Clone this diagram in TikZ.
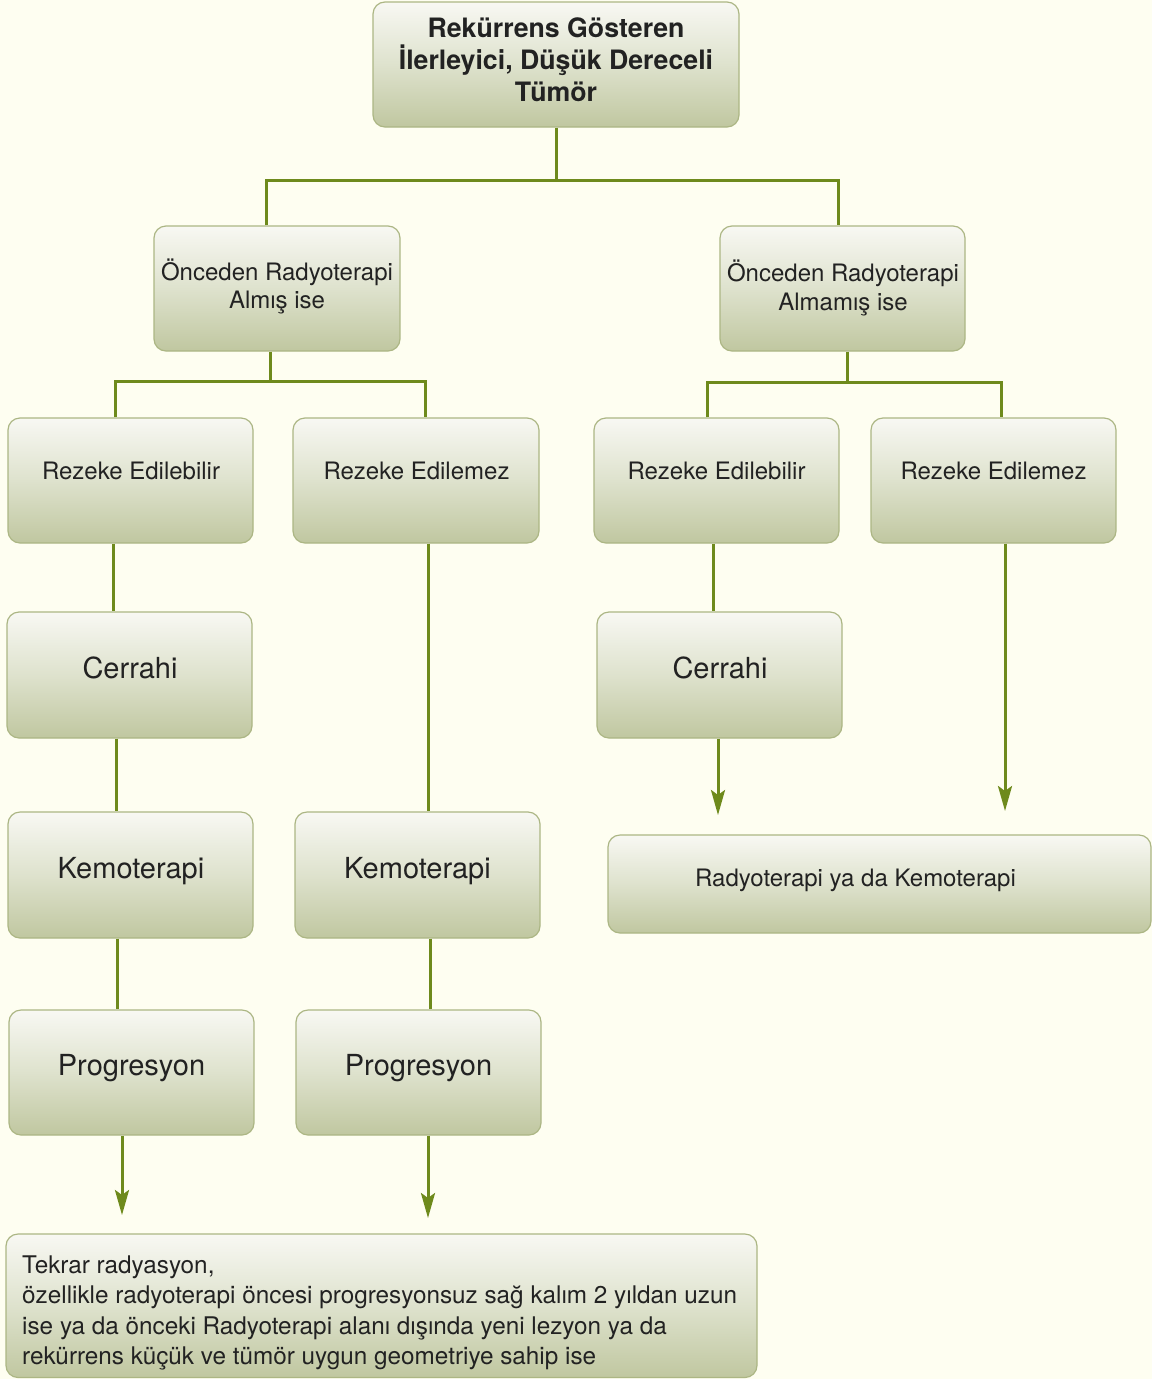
\documentclass[tikz,border=0pt]{standalone}
\usepackage{fontspec}
\setmainfont{TeX Gyre Heros}
\usetikzlibrary{arrows.meta,fit}
\definecolor{bg}{RGB}{254,254,241}
\definecolor{lineg}{RGB}{110,138,28}
\definecolor{bord}{RGB}{172,182,132}
\definecolor{gtop}{RGB}{248,248,243}
\definecolor{gmid}{RGB}{222,226,205}
\definecolor{gbot}{RGB}{192,199,160}
\definecolor{txt}{RGB}{34,34,34}
\newcommand\clines[2]{\vtop{\baselineskip=#1\lineskiplimit=-100pt\lineskip=0pt\halign{\hfil##\hfil\cr#2\crcr}}}
\newcommand\llines[2]{\vtop{\baselineskip=#1\lineskiplimit=-100pt\lineskip=0pt\halign{##\hfil\cr#2\crcr}}}
\begin{document}
\begin{tikzpicture}[x=1pt,y=-1pt,
  box/.style={draw=bord,line width=1.2pt,rounded corners=12pt,top color=gtop,bottom color=gbot,middle color=gmid,inner sep=0pt},
  lbl/.style={inner sep=0pt,text=txt,font=\fontsize{24}{28}\selectfont},
  big/.style={inner sep=0pt,text=txt,font=\fontsize{29}{34}\selectfont},
  ttl/.style={inner sep=0pt,text=txt,font=\fontsize{26.7}{32}\selectfont\bfseries},
  conn/.style={draw=lineg,line width=3pt},
  arr/.style={conn,-{Stealth[length=25pt,width=14pt,inset=5pt]}}]
\fill[bg] (0,0) rectangle (1152,1379);
\useasboundingbox (0,0) rectangle (1152,1379);
% boxes
\node[box,fit={(373,2)(739,127)}] (top) {};
\node[box,fit={(154,226)(400,351)}] (l2a) {};
\node[box,fit={(720,226)(965,351)}] (l2b) {};
\node[box,fit={(8,418)(253,543)}] (ra) {};
\node[box,fit={(293,418)(539,543)}] (rb) {};
\node[box,fit={(594,418)(839,543)}] (rc) {};
\node[box,fit={(871,418)(1116,543)}] (rd) {};
\node[box,fit={(7,612)(252,738)}] (cer1) {};
\node[box,fit={(597,612)(842,738)}] (cer2) {};
\node[box,fit={(8,812)(253,938)}] (kem1) {};
\node[box,fit={(295,812)(540,938)}] (kem2) {};
\node[box,fit={(9,1010)(254,1135)}] (prg1) {};
\node[box,fit={(296,1010)(541,1135)}] (prg2) {};
\node[box,fit={(608,835)(1151,933)}] (rk) {};
\node[box,fit={(6,1234)(757,1377.5)}] (tek) {};
% texts
\node[ttl,anchor=base] (ttop) at (556,37.6) {\clines{32pt}{Rekürrens Gösteren\cr İlerleyici, Düşük Dereceli\cr Tümör}};
\node[lbl,anchor=base] (tl2a) at (277,280.6) {\clines{28pt}{Önceden Radyoterapi\cr Almış ise}};
\node[lbl,anchor=base] (tl2b) at (843,281.6) {\clines{29pt}{Önceden Radyoterapi\cr Almamış ise}};
\node[lbl,anchor=base] (tra) at (131,479.6) {Rezeke Edilebilir};
\node[lbl,anchor=base] (trb) at (416.5,479.6) {Rezeke Edilemez};
\node[lbl,anchor=base] (trc) at (716.5,479.6) {Rezeke Edilebilir};
\node[lbl,anchor=base] (trd) at (993.5,479.6) {Rezeke Edilemez};
\node[big,anchor=base] (tcer1) at (130,678.4) {Cerrahi};
\node[big,anchor=base] (tcer2) at (720,678.4) {Cerrahi};
\node[big,anchor=base] (tkem1) at (131,878.4) {Kemoterapi};
\node[big,anchor=base] (tkem2) at (417.5,878.4) {Kemoterapi};
\node[big,anchor=base] (tprg1) at (131.5,1075.4) {Progresyon};
\node[big,anchor=base] (tprg2) at (418.5,1075.4) {Progresyon};
\node[lbl,anchor=base west] (trk) at (695,886.6) {Radyoterapi ya da Kemoterapi};
\node[lbl,anchor=base west,font=\fontsize{24.3}{28}\selectfont] (ttek) at (22,1273.6) {\llines{30.3pt}{Tekrar radyasyon,\cr özellikle radyoterapi öncesi progresyonsuz sağ kalım 2 yıldan uzun\cr ise ya da önceki Radyoterapi alanı dışında yeni lezyon ya da\cr rekürrens küçük ve tümör uygun geometriye sahip ise}};
% junction coordinates
\coordinate (j1) at (266,180); \coordinate (j2) at (838,180);
\coordinate (j3) at (115,381); \coordinate (j4) at (425,381); \coordinate (j5) at (270,381);
\coordinate (j6) at (707,382); \coordinate (j7) at (1001,382); \coordinate (j8) at (847,382);
\coordinate (v1) at (113,0); \coordinate (v2) at (116,0); \coordinate (v3) at (117,0);
\coordinate (v4) at (428,0); \coordinate (v5) at (430,0); \coordinate (v6) at (713,0);
\coordinate (a1) at (122,1215); \coordinate (a2) at (428,1218);
\coordinate (a3) at (718,815); \coordinate (a4) at (1005,811);
% connectors
\draw[conn] (top.south) -- (top.south |- j1);
\draw[conn] (l2a.north -| j1) -- (j1) -- (j2) -- (l2b.north -| j2);
\draw[conn] (l2a.south -| j5) -- (j5);
\draw[conn] (ra.north -| j3) -- (j3) -- (j4) -- (rb.north -| j4);
\draw[conn] (l2b.south -| j8) -- (j8);
\draw[conn] (rc.north -| j6) -- (j6) -- (j7) -- (rd.north -| j7);
\draw[conn] (ra.south -| v1) -- (cer1.north -| v1);
\draw[conn] (cer1.south -| v2) -- (kem1.north -| v2);
\draw[conn] (kem1.south -| v3) -- (prg1.north -| v3);
\draw[conn] (rb.south -| v4) -- (kem2.north -| v4);
\draw[conn] (kem2.south -| v5) -- (prg2.north -| v5);
\draw[conn] (rc.south -| v6) -- (cer2.north -| v6);
\draw[arr] (prg1.south -| a1) -- (a1);
\draw[arr] (prg2.south -| a2) -- (a2);
\draw[arr] (cer2.south -| a3) -- (a3);
\draw[arr] (rd.south -| a4) -- (a4);
\end{tikzpicture}
\end{document}
